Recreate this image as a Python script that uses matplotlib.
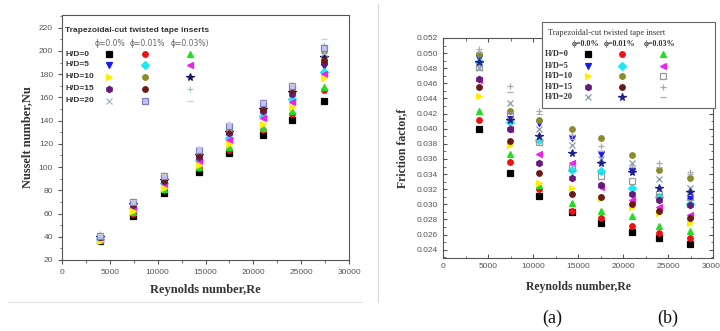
import matplotlib.pyplot as plt
from matplotlib.lines import Line2D
from matplotlib.patches import Rectangle
from matplotlib.ticker import MultipleLocator

# Reynolds numbers (same for both panels)
re = [4000, 7400, 10700, 14300, 17500, 21000, 24000, 27400]

# (a) Nusselt number, rows: H/D = 0, 5, 10, 15, 20 ; cols: phi = 0.0, 0.01, 0.03 %
nu_hd0_p0 = [36, 58, 78, 96, 112, 128, 141, 157]
nu_hd0_p1 = [37, 60, 80, 99, 115, 132, 146, 166]
nu_hd0_p3 = [37, 61, 81, 100, 117, 134, 148, 169]
nu_hd5_p0 = [39, 66, 87, 107, 127, 146, 162, 187]
nu_hd5_p1 = [38, 65, 86, 106, 125, 144, 159, 182]
nu_hd5_p3 = [38, 64, 85, 105, 123, 142, 156, 180]
nu_hd10_p0 = [36, 62, 82, 102, 120, 137, 152, 177]
nu_hd10_p1 = [41, 70, 91, 112, 133, 153, 168, 200]
nu_hd10_p3 = [40, 68, 89, 110, 130, 150, 165, 195]
nu_hd15_p0 = [40, 67, 88, 109, 129, 148, 163, 190]
nu_hd15_p1 = [40, 68, 89, 110, 131, 150, 166, 192]
nu_hd15_p3 = [42, 71, 93, 116, 137, 156, 171, 205]
nu_hd20_p0 = [41, 70, 92, 114, 134, 154, 169, 198]
nu_hd20_p1 = [41, 70, 92, 115, 135, 155, 170, 203]
nu_hd20_p3 = [42, 72, 94, 117, 138, 157, 172, 210]

# (b) friction factor
f_hd0_p0 = [0.0400, 0.0342, 0.0311, 0.0290, 0.0275, 0.0263, 0.0255, 0.0247]
f_hd0_p1 = [0.0412, 0.0356, 0.0320, 0.0291, 0.0282, 0.0271, 0.0262, 0.0255]
f_hd0_p3 = [0.0424, 0.0366, 0.0325, 0.0302, 0.0291, 0.0284, 0.0271, 0.0265]
f_hd5_p0 = [0.0493, 0.0413, 0.0408, 0.0388, 0.0366, 0.0344, 0.0310, 0.0307]
f_hd5_p1 = [0.0488, 0.0409, 0.0385, 0.0346, 0.0344, 0.0322, 0.0310, 0.0300]
f_hd5_p3 = [0.0464, 0.0399, 0.0366, 0.0355, 0.0323, 0.0306, 0.0296, 0.0286]
f_hd10_p0 = [0.0443, 0.0378, 0.0328, 0.0322, 0.0309, 0.0296, 0.0288, 0.0275]
f_hd10_p1 = [0.0499, 0.0424, 0.0412, 0.0400, 0.0388, 0.0365, 0.0346, 0.0335]
f_hd10_p3 = [0.0482, 0.0418, 0.0382, 0.0348, 0.0337, 0.0331, 0.0314, 0.0310]
f_hd15_p0 = [0.0466, 0.0399, 0.0355, 0.0335, 0.0325, 0.0313, 0.0306, 0.0299]
f_hd15_p1 = [0.0455, 0.0384, 0.0342, 0.0313, 0.0310, 0.0301, 0.0291, 0.0282]
f_hd15_p3 = [0.0506, 0.0457, 0.0423, 0.0392, 0.0377, 0.0350, 0.0355, 0.0343]
f_hd20_p0 = [0.0480, 0.0434, 0.0399, 0.0378, 0.0360, 0.0355, 0.0333, 0.0322]
f_hd20_p1 = [0.0488, 0.0412, 0.0390, 0.0368, 0.0355, 0.0343, 0.0322, 0.0316]
f_hd20_p3 = [0.0502, 0.0448, 0.0419, 0.0386, 0.0370, 0.0352, 0.0350, 0.0340]

hd_labels = ["H/D=0", "H/D=5", "H/D=10", "H/D=15", "H/D=20"]
phi_a = ["ϕ=0.0%", "ϕ=0.01%", "ϕ=0.03%)"]
phi_b = ["ϕ=0.0%", "ϕ=0.01%", "ϕ=0.03%"]

# marker styles (marker, color, facecolor) per H/D row and phi column
sty_a = [
    [("s", "#000000", None), ("o", "#ee1111", None), ("^", "#22dd22", None)],
    [("v", "#1a1aee", None), ("D", "#22e6f0", None), ("<", "#ee22ee", None)],
    [(">", "#ffee00", None), ("o", "#8b8b2a", None), ("*", "#14145a", None)],
    [("h", "#661a7a", None), ("o", "#6b1a1a", None), ("+", "#a8c8b0", None)],
    [("x", "#a8b8c4", None), ("s", "#8080c8", "#c4c4f0"), ("_", "#cccccc", None)],
]
sty_b = [
    [("s", "#000000", None), ("o", "#ee1111", None), ("^", "#22dd22", None)],
    [("v", "#1a1aee", None), ("D", "#22e6f0", None), ("<", "#ee22ee", None)],
    [(">", "#ffee00", None), ("o", "#8b8b2a", None), ("s", "#999999", "none")],
    [("h", "#661a7a", None), ("o", "#6b1a1a", None), ("+", "#aaaaaa", None)],
    [("x", "#8a9aa8", None), ("*", "#20208a", None), ("_", "#aaaaaa", None)],
]

nu_rows = [[nu_hd0_p0, nu_hd0_p1, nu_hd0_p3], [nu_hd5_p0, nu_hd5_p1, nu_hd5_p3],
           [nu_hd10_p0, nu_hd10_p1, nu_hd10_p3], [nu_hd15_p0, nu_hd15_p1, nu_hd15_p3],
           [nu_hd20_p0, nu_hd20_p1, nu_hd20_p3]]
f_rows = [[f_hd0_p0, f_hd0_p1, f_hd0_p3], [f_hd5_p0, f_hd5_p1, f_hd5_p3],
          [f_hd10_p0, f_hd10_p1, f_hd10_p3], [f_hd15_p0, f_hd15_p1, f_hd15_p3],
          [f_hd20_p0, f_hd20_p1, f_hd20_p3]]

W, H = 720, 331
fig = plt.figure(figsize=(W / 100, H / 100), dpi=100)


def fx(px):
    return px / W


def fy(py):
    return 1 - py / H


def ms_for(m):
    return {"*": 5.5, "+": 5, "x": 4.5, "_": 5, "h": 4.5}.get(m, 4)


def draw_points(ax, rows, sty):
    for r in range(5):
        for c in range(3):
            m, col, fc = sty[r][c]
            ax.plot(re, rows[r][c], linestyle="none", marker=m, color=col,
                    markerfacecolor=col if fc is None else fc,
                    markersize=ms_for(m), markeredgewidth=0.9)


def style_axes(ax, inner_ticks):
    for s in ax.spines.values():
        s.set_color("#555555")
        s.set_linewidth(0.8)
    ax.tick_params(which="both", colors="#555555", labelsize=6, direction="out",
                   labelcolor="#555555")
    ax.tick_params(which="major", length=3)
    ax.tick_params(which="minor", length=1.8)
    if inner_ticks:
        ax.tick_params(which="both", top=True, right=True, direction="in")
        ax.tick_params(which="both", axis="x", bottom=True)
    for lab in ax.get_xticklabels() + ax.get_yticklabels():
        lab.set_fontfamily("Liberation Sans")


serif_b = dict(family="Liberation Serif", fontweight="bold", color="#333333")

# ---------- (a) ----------
ax1 = fig.add_axes([fx(62), fy(260), fx(287), 245 / H])
draw_points(ax1, nu_rows, sty_a)
ax1.set_xlim(0, 30000)
ax1.set_ylim(20, 231)
ax1.xaxis.set_major_locator(MultipleLocator(5000))
ax1.xaxis.set_minor_locator(MultipleLocator(2500))
ax1.yaxis.set_major_locator(MultipleLocator(20))
ax1.yaxis.set_minor_locator(MultipleLocator(10))
style_axes(ax1, False)
ax1.set_xlabel("Reynolds number,Re", fontsize=9, labelpad=6, **serif_b)
ax1.set_ylabel("Nusselt number,Nu", fontsize=9, labelpad=4, **serif_b)

# legend (a)
fig.text(fx(65), fy(31), "Trapezoidal-cut twisted tape inserts", fontsize=6,
         family="Liberation Sans", fontweight="bold", color="#333333", va="center")
for c, x in enumerate([110, 147, 190]):
    fig.text(fx(x), fy(43), phi_a[c], fontsize=5.5, family="DejaVu Sans",
             color="#666666", ha="center", va="center")
for r, y in enumerate([54, 65, 77, 89, 101]):
    fig.text(fx(65), fy(y), hd_labels[r], fontsize=6, family="Liberation Sans",
             fontweight="bold", color="#333333", va="center")
    for c, x in enumerate([109, 145, 190]):
        m, col, fc = sty_a[r][c]
        fig.add_artist(Line2D([fx(x)], [fy(y)], transform=fig.transFigure,
                              marker=m, color=col, linestyle="none",
                              markerfacecolor=col if fc is None else fc,
                              markersize=ms_for(m), markeredgewidth=0.9))

# ---------- (b) ----------
ax2 = fig.add_axes([fx(443), fy(258), fx(270), 220 / H])
draw_points(ax2, f_rows, sty_b)
ax2.set_xlim(0, 30000)
ax2.set_ylim(0.0229, 0.052)
ax2.xaxis.set_major_locator(MultipleLocator(5000))
ax2.xaxis.set_minor_locator(MultipleLocator(2500))
ax2.yaxis.set_major_locator(MultipleLocator(0.002))
ax2.yaxis.set_minor_locator(MultipleLocator(0.001))
ax2.yaxis.set_major_formatter(plt.FuncFormatter(lambda v, _: f"{v:.3f}"))
style_axes(ax2, True)
ax2.set_xlabel("Reynolds number,Re", fontsize=8.5, labelpad=8, **serif_b)
ax2.set_ylabel("Friction factor,f", fontsize=8.5, labelpad=6, **serif_b)

# legend (b)
fig.add_artist(Rectangle((fx(542), fy(108)), fx(173), 86 / H, transform=fig.transFigure,
                         facecolor="white", edgecolor="#666666", linewidth=0.8, zorder=5))
fig.text(fx(548), fy(33), "Trapezoidal-cut twisted tape insert", fontsize=6,
         family="Liberation Serif", color="#333333", va="center", zorder=6)
for c, x in enumerate([586, 620, 660]):
    fig.text(fx(x), fy(44), phi_b[c], fontsize=5.8, fontweight="bold",
             family=["Liberation Serif", "DejaVu Serif"], color="#333333",
             ha="center", va="center", zorder=6)
for r, y in enumerate([54, 66, 76, 87, 97]):
    fig.text(fx(545), fy(y), hd_labels[r], fontsize=6, family="Liberation Serif",
             fontweight="bold", color="#333333", va="center", zorder=6)
    for c, x in enumerate([588, 622, 663]):
        m, col, fc = sty_b[r][c]
        fig.add_artist(Line2D([fx(x)], [fy(y)], transform=fig.transFigure,
                              marker=m, color=col, linestyle="none",
                              markerfacecolor=col if fc is None else fc,
                              markersize=ms_for(m), markeredgewidth=0.9, zorder=7))

# panel separators from the composite figure
fig.add_artist(Line2D([fx(8), fx(362)], [fy(302), fy(302)], transform=fig.transFigure,
                      color="#e4e4e4", linewidth=0.8))
fig.add_artist(Line2D([fx(378), fx(378)], [fy(4), fy(302)], transform=fig.transFigure,
                      color="#d8d8d8", linewidth=0.8))

fig.text(fx(552), fy(318), "(a)", fontsize=13, family="Liberation Serif",
         ha="center", va="center", color="#111111")
fig.text(fx(668), fy(318), "(b)", fontsize=13, family="Liberation Serif",
         ha="center", va="center", color="#111111")

fig.savefig("out.png", dpi=100)
